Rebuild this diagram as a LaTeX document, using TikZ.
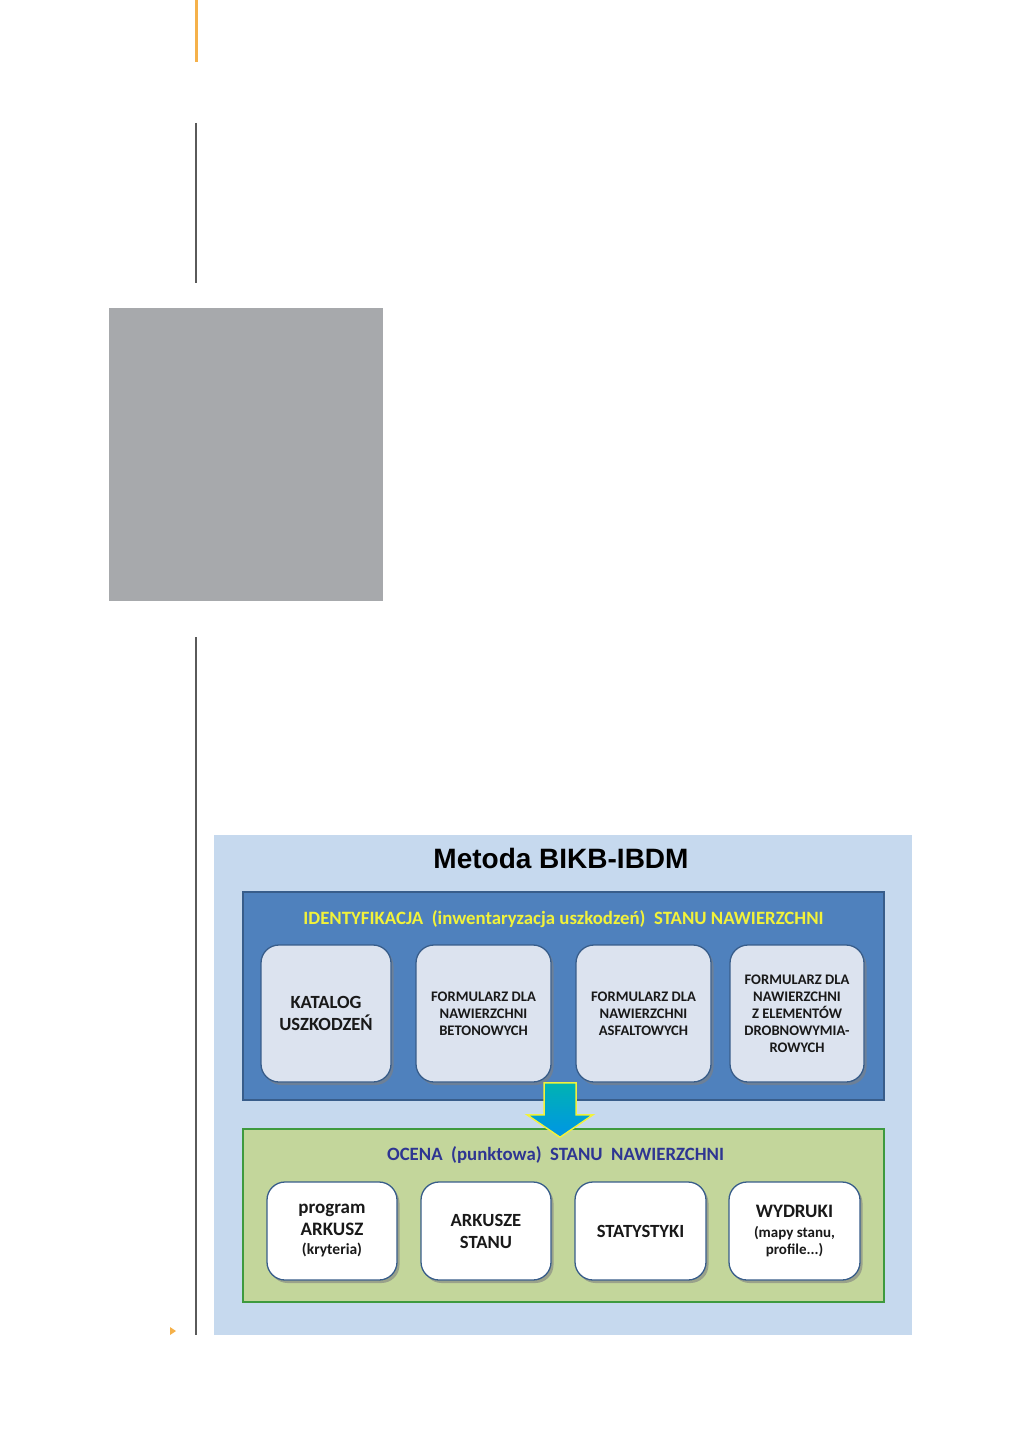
\documentclass[tikz,border=0pt]{standalone}
\usepackage{fontspec}
\setmainfont{Carlito}
\newfontfamily\titlefont{Liberation Sans}
\usetikzlibrary{calc,shadows}

\definecolor{tlo}{HTML}{C6D9EE}
\definecolor{niebieski}{HTML}{4F81BD}
\definecolor{ramka}{HTML}{385D8A}
\definecolor{jasny}{HTML}{DCE3EF}
\definecolor{zielony}{HTML}{C3D69B}
\definecolor{ramkaz}{HTML}{3E9A3E}
\definecolor{zolty}{HTML}{F2F23A}
\definecolor{granat}{HTML}{2E3592}
\definecolor{szary}{HTML}{A7A9AC}
\definecolor{pomarancz}{HTML}{F5B14A}
\definecolor{linia}{HTML}{5A5A5A}

\tikzset{
  panel/.style={draw, line width=1.5pt, inner sep=0pt},
  kafel/.style={draw=ramka, line width=1.3pt, rounded corners=18pt, inner sep=2pt,
    align=center, text=black!90, font=\bfseries,
    drop shadow={shadow xshift=2.5pt, shadow yshift=-3pt, opacity=0.6}},
  duzy/.style={font=\fontsize{18.6}{22}\selectfont\bfseries},
  maly/.style={font=\fontsize{14.6}{17}\selectfont\bfseries},
  naglowek/.style={font=\fontsize{18.8}{20}\selectfont\bfseries},
}

\begin{document}
\begin{tikzpicture}[x=1pt, y=-1pt]
\useasboundingbox (0,0) rectangle (1030,1455);
% margines strony {{{
\draw[pomarancz, line width=3pt] (196,0) -- (196,62);
\draw[linia, line width=1.5pt] (196,123) -- (196,283);
\fill[szary] (109,308) rectangle (383,601);
\draw[linia, line width=1.5pt] (196,637) -- (196,1335);
\fill[pomarancz] (170,1327) -- (176,1331) -- (170,1335) -- cycle;
% }}}
% Metoda {{{
\fill[tlo] (214,835) rectangle (912,1335);
\node[font=\titlefont\fontsize{28}{30}\selectfont\bfseries] (tytul) at (561,858) {Metoda BIKB-IBDM};
% }}}
% Identyfikacja {{{
\node[panel, draw=ramka, fill=niebieski, minimum width=641, minimum height=208] (ident) at (563.5,996) {};
\node[naglowek, text=zolty] (identtxt) at (563.5,919)
  {IDENTYFIKACJA\ \ (inwentaryzacja uszkodzeń)\ \ STANU NAWIERZCHNI};
\node[kafel, fill=jasny, duzy, minimum width=130, minimum height=137] (katalog) at (326,1013.5)
  {KATALOG\\USZKODZEŃ};
\node[kafel, fill=jasny, maly, minimum width=135, minimum height=137] (beton) at (483.5,1013.5)
  {FORMULARZ DLA\\NAWIERZCHNI\\BETONOWYCH};
\node[kafel, fill=jasny, maly, minimum width=135, minimum height=137] (asfalt) at (643.5,1013.5)
  {FORMULARZ DLA\\NAWIERZCHNI\\ASFALTOWYCH};
\node[kafel, fill=jasny, maly, minimum width=134, minimum height=137] (kostka) at (797,1013.5)
  {FORMULARZ DLA\\NAWIERZCHNI\\Z ELEMENTÓW\\DROBNOWYMIA-\\ROWYCH};
% }}}
% Ocena {{{
\node[panel, draw=ramkaz, fill=zielony, minimum width=641, minimum height=173] (ocena) at (563.5,1215.5) {};
\node[naglowek, text=granat] (ocenatxt) at (555.5,1155)
  {OCENA\ \ (punktowa)\ \ STANU\ \ NAWIERZCHNI};
\node[kafel, fill=white, font=\fontsize{15.5}{19}\selectfont\bfseries, minimum width=130, minimum height=98] (program) at (332,1231)
  {{\fontsize{19}{19}\selectfont program}\\[3pt]{\fontsize{19}{19}\selectfont ARKUSZ}\\(kryteria)};
\node[kafel, fill=white, duzy, minimum width=130, minimum height=98] (arkusze) at (486,1231)
  {ARKUSZE\\STANU};
\node[kafel, fill=white, duzy, minimum width=131, minimum height=98] (statystyki) at (640.5,1231)
  {STATYSTYKI};
\node[kafel, fill=white, font=\fontsize{15}{17}\selectfont\bfseries, minimum width=131, minimum height=98] (wydruki) at (794.5,1231)
  {{\fontsize{19}{19}\selectfont WYDRUKI}\\[3pt](mapy stanu,\\profile...)};
% }}}
% strzalka {{{
\coordinate (start) at ($(ident.south)+(-3.5,-18)$);
\coordinate (koniec) at ($(ocena.north)+(-3.5,9)$);
\path[draw=zolty, line width=1.5pt, line join=miter, top color=teal!60!cyan, bottom color=blue!35!cyan!90!black]
  ($(start)+(-16,0)$) -- ($(start)+(16,0)$) -- ($(start)+(16,32)$) -- ($(start)+(33,32)$)
  -- (koniec) -- ($(start)+(-33,32)$) -- ($(start)+(-16,32)$) -- cycle;
% }}}
\end{tikzpicture}
\end{document}
